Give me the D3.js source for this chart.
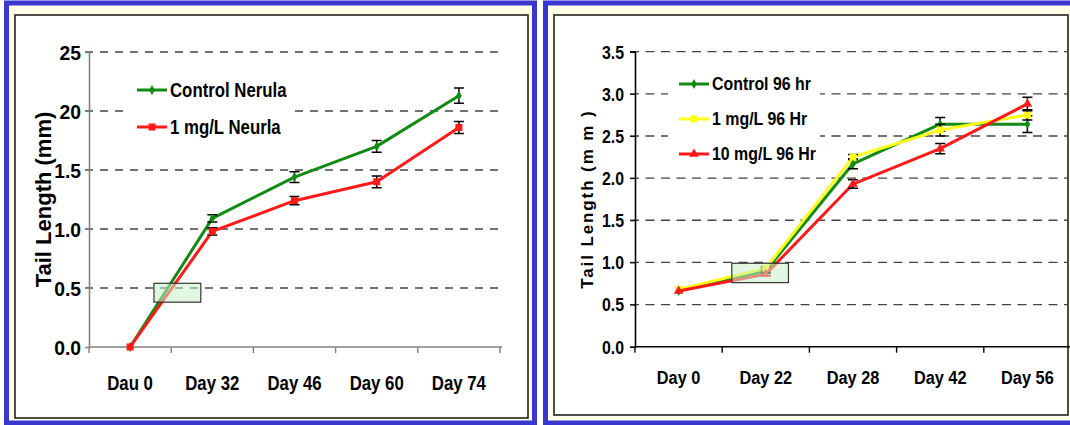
<!DOCTYPE html>
<html>
<head>
<meta charset="utf-8">
<script src="https://cdn.jsdelivr.net/npm/d3@7"></script>
<style>
  body { margin: 0; background: #ffffff; }
  text { font-family: "Liberation Sans", Arial, sans-serif; font-weight: bold; fill: #000; }
</style>
</head>
<body>
<div id="chart"></div>
<script>
// chart data
var leftDays = ["Dau 0", "Day 32", "Day 46", "Day 60", "Day 74"];
var leftTicks = [0, 0.5, 1.0, 1.5, 2.0, 2.5];
var leftTickLabels = ["0.0", "0.5", "1.0", "1.5", "20", "25"];
var controlNeurula = [0, 1.09, 1.44, 1.70, 2.13];
var controlNeurulaErr = [0, 0.03, 0.045, 0.05, 0.065];
var dose1Neurula = [0, 0.98, 1.24, 1.40, 1.86];
var dose1NeurulaErr = [0, 0.03, 0.035, 0.05, 0.05];

var rightDays = ["Day 0", "Day 22", "Day 28", "Day 42", "Day 56"];
var rightTicks = [0, 0.5, 1.0, 1.5, 2.0, 2.5, 3.0, 3.5];
var rightTickLabels = ["0.0", "0.5", "1.0", "1.5", "2.0", "2.5", "3.0", "3.5"];
var control96 = [0.66, 0.90, 2.17, 2.64, 2.64];
var control96Err = [0.01, 0.03, 0.06, 0.08, 0.1];
var dose1_96 = [0.68, 0.93, 2.25, 2.57, 2.75];
var dose1_96Err = [0.01, 0.02, 0.03, 0.07, 0.06];
var dose10_96 = [0.66, 0.86, 1.93, 2.35, 2.88];
var dose10_96Err = [0.01, 0.02, 0.05, 0.06, 0.08];

var svg = d3.select("#chart").append("svg")
  .attr("width", 1070)
  .attr("height", 425);

// panel frames
function frame(x, w, boxX, boxW, boxH) {
  svg.append("rect").attr("x", x).attr("y", 3).attr("width", w).attr("height", 420)
    .attr("fill", "#fffee6").attr("stroke", "#3a36cf").attr("stroke-width", 5);
  svg.append("rect").attr("x", boxX).attr("y", 15).attr("width", boxW).attr("height", boxH)
    .attr("fill", "#ffffff").attr("stroke", "#222").attr("stroke-width", 1.6);
}
frame(6.5, 528, 15, 513, 403);
frame(545.5, 540, 554, 514, 400);

function marker(g, shape, color, cx, cy) {
  if (shape === "diamond") {
    g.append("path").attr("d", d3.symbol(d3.symbolDiamond, 28)())
      .attr("transform", `translate(${cx},${cy})`).attr("fill", color);
  } else if (shape === "square") {
    g.append("rect").attr("x", cx - 3.5).attr("y", cy - 3.5).attr("width", 7).attr("height", 7)
      .attr("fill", color);
  } else {
    g.append("path").attr("d", d3.symbol(d3.symbolTriangle, 40)())
      .attr("transform", `translate(${cx},${cy})`).attr("fill", color);
  }
}

// condensed text (the original uses a narrow bold face)
function label(g, x, y, str, size, squeeze, anchor) {
  return g.append("text")
    .attr("transform", `translate(${x},${y}) scale(${squeeze},1)`)
    .attr("text-anchor", anchor || "start").attr("dominant-baseline", "central")
    .style("font-size", size + "px")
    .text(str);
}

function drawPanel(p) {
  var x = d3.scaleBand().domain(p.days).range([p.x0, p.x1]);
  var y = d3.scaleLinear().domain([0, p.ymax]).range([p.y0, p.y1]);
  var g = svg.append("g");

  // gridlines
  g.selectAll(".grid").data(p.ticks.filter(d => d > 0)).enter().append("line")
    .attr("x1", p.x0 - p.tickLen).attr("x2", p.gridEnd)
    .attr("y1", d => y(d)).attr("y2", d => y(d))
    .attr("stroke", "#444").attr("stroke-width", 1.3)
    .attr("stroke-dasharray", p.dash);

  // legend background
  g.append("rect").attr("x", p.legend.bx).attr("y", p.legend.by)
    .attr("width", p.legend.bw).attr("height", p.legend.bh).attr("fill", "#fff");

  // y axis
  var yAxis = d3.axisLeft(y).tickValues(p.ticks)
    .tickFormat((d, i) => p.tickLabels[i]).tickSize(p.tickLen);
  var ya = g.append("g").attr("transform", `translate(${p.x0},0)`).call(yAxis);
  ya.select(".domain").attr("stroke", p.axisColor).attr("stroke-width", 1.6);
  ya.selectAll(".tick line").attr("stroke", p.axisColor);
  ya.selectAll(".tick text")
    .attr("x", 0).attr("dy", null).attr("dominant-baseline", "central")
    .attr("transform", `translate(${-p.labelPad},0) scale(${p.tickSqueeze},1)`)
    .style("font-size", p.tickFont + "px").attr("fill", "#000");

  // x axis line and boundary ticks
  g.append("line").attr("x1", p.x0).attr("x2", p.x1 + 2).attr("y1", p.y0).attr("y2", p.y0)
    .attr("stroke", p.axisColor).attr("stroke-width", 1.6);
  var bounds = p.days.map(d => x(d)).concat([p.x1]);
  g.selectAll(".xt").data(bounds).enter().append("line")
    .attr("x1", d => d).attr("x2", d => d)
    .attr("y1", p.y0).attr("y2", p.y0 + 6)
    .attr("stroke", p.axisColor).attr("stroke-width", 1.4);
  p.days.forEach(function(d) {
    label(g, x(d) + x.bandwidth() / 2, p.y0 + p.xLabelDy, d, p.xFont, p.squeeze, "middle");
  });

  // axis title
  g.append("text")
    .attr("transform", `translate(${p.titleX},${(p.y0 + p.y1) / 2}) rotate(-90)`)
    .attr("text-anchor", "middle").attr("dominant-baseline", "central")
    .style("font-size", p.titleFont + "px").style("letter-spacing", p.titleSpacing + "px")
    .text(p.title);

  // series
  var cx = d => x(d) + x.bandwidth() / 2;
  p.series.forEach(function(s) {
    var pts = p.days.map((d, i) => [cx(d), y(s.values[i])]);
    g.append("path").attr("d", d3.line()(pts)).attr("fill", "none")
      .attr("stroke", s.color).attr("stroke-width", 3).attr("stroke-linejoin", "round");
    p.days.forEach(function(d, i) {
      if (s.err[i] > 0.015) {
        var top = y(s.values[i] + s.err[i]), bot = y(s.values[i] - s.err[i]);
        var xx = cx(d);
        g.append("path")
          .attr("d", `M${xx},${top}V${bot}M${xx - 5},${top}H${xx + 5}M${xx - 5},${bot}H${xx + 5}`)
          .attr("stroke", "#000").attr("stroke-width", 1.5).attr("fill", "none");
      }
      marker(g, s.shape, s.color, cx(d), y(s.values[i]));
    });
  });

  // highlight box
  var hb = p.highlight;
  var hx0 = x(p.days[hb.d0]) + hb.f0 * x.bandwidth();
  var hx1 = x(p.days[hb.d1]) + hb.f1 * x.bandwidth();
  g.append("rect")
    .attr("x", hx0).attr("width", hx1 - hx0)
    .attr("y", y(hb.v1)).attr("height", y(hb.v0) - y(hb.v1))
    .attr("fill", "#c8f0c8").attr("fill-opacity", 0.55)
    .attr("stroke", "#333").attr("stroke-width", 1.2);

  // legend
  p.series.forEach(function(s, i) {
    var ly = p.legend.y + i * p.legend.step;
    g.append("line").attr("x1", p.legend.x).attr("x2", p.legend.x + 30)
      .attr("y1", ly).attr("y2", ly).attr("stroke", s.color).attr("stroke-width", 3);
    marker(g, s.shape, s.color, p.legend.x + 15, ly);
    label(g, p.legend.x + 33, ly, s.name, p.legendFont, p.squeeze);
  });
}

drawPanel({
  days: leftDays, ticks: leftTicks, tickLabels: leftTickLabels, ymax: 2.5,
  x0: 89, x1: 500, y0: 347, y1: 52, gridEnd: 500, tickLen: 4, labelPad: 8,
  axisColor: "#808080", dash: "8,7", tickFont: 21, xFont: 21, squeeze: 0.8, tickSqueeze: 0.92,
  xLabelDy: 36,
  title: "Tail Length (mm)", titleX: 43, titleFont: 22, titleSpacing: 0,
  legendFont: 21,
  legend: { x: 137, y: 90, step: 37, bx: 128, by: 66, bw: 162, bh: 84 },
  highlight: { d0: 0, f0: 0.79, d1: 1, f1: 0.36, v0: 0.38, v1: 0.54 },
  series: [
    { name: "Control Nerula", values: controlNeurula, err: controlNeurulaErr, color: "#138a13", shape: "diamond" },
    { name: "1 mg/L Neurla", values: dose1Neurula, err: dose1NeurulaErr, color: "#ff1a1a", shape: "square" }
  ]
});

drawPanel({
  days: rightDays, ticks: rightTicks, tickLabels: rightTickLabels, ymax: 3.5,
  x0: 635, x1: 1071, y0: 346.7, y1: 51.7, gridEnd: 1068, tickLen: 5, labelPad: 11,
  axisColor: "#000", dash: "9,6.5", tickFont: 18.5, xFont: 19, squeeze: 0.86, tickSqueeze: 0.86,
  xLabelDy: 31,
  title: "Tail Length (m m )", titleX: 587, titleFont: 17, titleSpacing: 1.9,
  legendFont: 18.5,
  legend: { x: 679, y: 84, step: 35, bx: 668, by: 66, bw: 152, bh: 104 },
  highlight: { d0: 1, f0: 0.11, d1: 1, f1: 0.76, v0: 0.76, v1: 0.99 },
  series: [
    { name: "Control 96 hr", values: control96, err: control96Err, color: "#138a13", shape: "diamond" },
    { name: "1 mg/L 96 Hr", values: dose1_96, err: dose1_96Err, color: "#ffff1a", shape: "square" },
    { name: "10 mg/L 96 Hr", values: dose10_96, err: dose10_96Err, color: "#ff1a1a", shape: "triangle" }
  ]
});
</script>
</body>
</html>
